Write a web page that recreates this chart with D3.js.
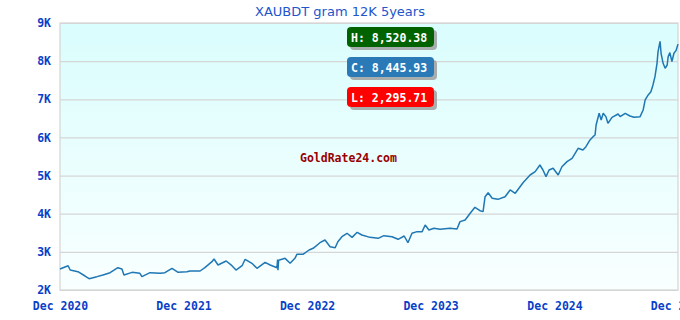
<!DOCTYPE html>
<html>
<head>
<meta charset="utf-8">
<script src="https://cdn.jsdelivr.net/npm/d3@7"></script>
<style>
  body { margin: 0; background: #fff; }
  svg { display: block; }
</style>
</head>
<body>
<div id="chart"></div>
<script>
// price series (BDT per gram, 12K)
const dates = [
  "2020-12-01","2020-12-25","2020-12-31","2021-01-23","2021-02-13","2021-02-25","2021-03-20","2021-04-07",
  "2021-04-28","2021-05-21","2021-06-02","2021-06-08","2021-07-02","2021-07-25","2021-07-31","2021-08-24",
  "2021-09-23","2021-10-07","2021-10-28","2021-11-15","2021-12-11","2021-12-20","2022-01-19","2022-02-02",
  "2022-02-23","2022-03-01","2022-03-13","2022-04-06","2022-04-23","2022-05-05","2022-05-23","2022-06-01",
  "2022-06-21","2022-07-06","2022-07-30","2022-08-14","2022-09-03","2022-09-05","2022-09-06","2022-09-08",
  "2022-09-27","2022-10-12","2022-10-26","2022-11-01","2022-11-19","2022-12-07","2022-12-19","2023-01-08",
  "2023-01-23","2023-02-07","2023-02-22","2023-03-02","2023-03-14","2023-03-29","2023-04-13","2023-04-28",
  "2023-05-12","2023-06-05","2023-06-29","2023-07-16","2023-08-09","2023-08-27","2023-09-14","2023-09-25",
  "2023-10-07","2023-10-22","2023-11-06","2023-11-15","2023-11-26","2023-12-11","2023-12-29","2024-01-27",
  "2024-02-17","2024-02-26","2024-03-12","2024-03-27","2024-04-10","2024-04-25","2024-05-04","2024-05-10",
  "2024-05-19","2024-05-31","2024-06-17","2024-07-08","2024-07-23","2024-08-07","2024-08-18","2024-08-30",
  "2024-09-20","2024-10-05","2024-10-19","2024-10-28","2024-11-06","2024-11-15","2024-11-27","2024-12-12",
  "2024-12-23","2025-01-07","2025-01-22","2025-02-09","2025-02-23","2025-03-04","2025-03-16","2025-03-25",
  "2025-03-31","2025-04-03","2025-04-12","2025-04-18","2025-04-24","2025-05-02","2025-05-08","2025-05-20",
  "2025-06-07","2025-06-13","2025-06-28","2025-07-12","2025-07-24","2025-08-11","2025-08-20","2025-08-26",
  "2025-09-04","2025-09-12","2025-09-18","2025-09-24","2025-09-30","2025-10-03","2025-10-09","2025-10-12",
  "2025-10-18","2025-10-24","2025-10-30","2025-11-02","2025-11-07","2025-11-13","2025-11-19","2025-11-25",
  "2025-12-01"
];
const prices = [
  2551,2637,2524,2480,2367,2296,2350,2393,
  2454,2585,2551,2393,2463,2437,2350,2454,
  2437,2454,2568,2463,2480,2498,2498,2585,
  2742,2813,2655,2760,2637,2524,2637,2805,
  2700,2568,2726,2655,2585,2800,2520,2780,
  2830,2700,2830,2935,2935,3049,3093,3240,
  3311,3135,3109,3266,3397,3487,3380,3513,
  3442,3380,3355,3424,3397,3329,3416,3240,
  3487,3530,3530,3704,3573,3617,3591,3617,
  3599,3792,3835,4011,4168,4080,4054,4446,
  4551,4404,4377,4446,4622,4535,4666,4813,
  5015,5102,5277,5146,4971,5146,5191,5015,
  5233,5365,5453,5715,5671,5757,5933,6020,
  6064,6326,6633,6457,6633,6545,6370,6527,
  6615,6545,6633,6562,6527,6545,6719,6982,
  7113,7200,7375,7593,7943,8249,8520,8206,
  7943,7812,7899,8118,8223,7986,8206,8275,
  8446
];
const yTicks = [2000, 3000, 4000, 5000, 6000, 7000, 8000, 9000];
const xTicks = ["2020-12-01","2021-12-01","2022-12-01","2023-12-01","2024-12-01","2025-12-01"];
const title = "XAUBDT gram 12K 5years";
const badges = [
  { label: "H: 8,520.38", color: "#006400" },
  { label: "C: 8,445.93", color: "#2a7ab8" },
  { label: "L: 2,295.71", color: "#ff0000" }
];
const watermark = "GoldRate24.com";

const width = 680, height = 320;
const margin = { top: 23, right: 2, bottom: 30, left: 60 };
const innerW = width - margin.left - margin.right;
const innerH = height - margin.top - margin.bottom;
const parse = d3.timeParse("%Y-%m-%d");
const mono = "'DejaVu Sans Mono', 'Liberation Mono', monospace";

const data = dates.map((d, i) => ({ date: parse(d), value: prices[i] }));

const svg = d3.select("#chart").append("svg")
    .attr("width", width)
    .attr("height", height);

const defs = svg.append("defs");
const grad = defs.append("linearGradient")
    .attr("id", "bg").attr("x1", 0).attr("y1", 0).attr("x2", 0).attr("y2", 1);
grad.append("stop").attr("offset", "0%").attr("stop-color", "#dafdfd");
grad.append("stop").attr("offset", "100%").attr("stop-color", "#f9ffff");

const shadow = defs.append("filter").attr("id", "shadow")
    .attr("x", "-10%").attr("y", "-20%").attr("width", "130%").attr("height", "160%");
shadow.append("feDropShadow")
    .attr("dx", 3).attr("dy", 3).attr("stdDeviation", 0.6)
    .attr("flood-color", "#999").attr("flood-opacity", 0.8);

svg.append("text")
    .attr("x", width / 2).attr("y", 16)
    .attr("text-anchor", "middle")
    .attr("font-family", "'DejaVu Sans', sans-serif")
    .attr("font-size", 13)
    .attr("fill", "#2255cc")
    .text(title);

const g = svg.append("g").attr("transform", `translate(${margin.left},${margin.top})`);

const x = d3.scaleTime()
    .domain([parse(xTicks[0]), parse(xTicks[xTicks.length - 1])])
    .range([0, innerW]);
const y = d3.scaleLinear()
    .domain([2000, 9000])
    .range([innerH, 0]);

g.append("rect")
    .attr("width", innerW).attr("height", innerH)
    .attr("fill", "url(#bg)");

// horizontal grid
g.append("g")
    .call(d3.axisLeft(y).tickValues(yTicks).tickSize(-innerW).tickFormat(""))
    .call(a => a.select(".domain").remove())
    .call(a => a.selectAll("line").attr("stroke", "#d6d6d6").attr("stroke-width", 1.2));

g.append("rect")
    .attr("width", innerW).attr("height", innerH)
    .attr("fill", "none").attr("stroke", "#d4d4d4").attr("stroke-width", 1.2);

// y axis labels
g.append("g")
    .call(d3.axisLeft(y).tickValues(yTicks).tickSize(0).tickPadding(9)
      .tickFormat(d => (d / 1000) + "K"))
    .call(a => a.select(".domain").remove())
    .call(a => a.selectAll("text")
      .attr("font-family", mono).attr("font-weight", "bold")
      .attr("font-size", 11.5).attr("fill", "#0a3fc8"));

// x axis labels (last one runs off the right edge, as in the original)
g.append("g")
    .attr("transform", `translate(0,${innerH})`)
    .call(d3.axisBottom(x).tickValues(xTicks.map(parse)).tickSize(0).tickPadding(12)
      .tickFormat(d3.timeFormat("%b %Y")))
    .call(a => a.select(".domain").remove())
    .call(a => a.selectAll("text")
      .attr("font-family", mono).attr("font-weight", "bold")
      .attr("font-size", 11.5).attr("fill", "#0a3fc8"));

// watermark
g.append("text")
    .attr("x", 240).attr("y", 139)
    .attr("font-family", mono).attr("font-weight", "bold")
    .attr("font-size", 11.5).attr("fill", "#990000")
    .text(watermark);

// price line
g.append("path")
    .datum(data)
    .attr("fill", "none")
    .attr("stroke", "#1f77b4")
    .attr("stroke-width", 1.5)
    .attr("stroke-linejoin", "bevel")
    .attr("d", d3.line().x(d => x(d.date)).y(d => y(d.value)));

// high / close / low badges
const badge = g.selectAll(".badge").data(badges).join("g")
    .attr("class", "badge")
    .attr("transform", (d, i) => `translate(287,${4 + i * 30})`);
badge.append("rect")
    .attr("width", 87).attr("height", 20).attr("rx", 4)
    .attr("fill", d => d.color)
    .attr("filter", "url(#shadow)");
badge.append("text")
    .attr("x", 4).attr("y", 14.5)
    .attr("font-family", mono).attr("font-weight", "bold")
    .attr("font-size", 11.5).attr("fill", "#fff")
    .text(d => d.label);
</script>
</body>
</html>
